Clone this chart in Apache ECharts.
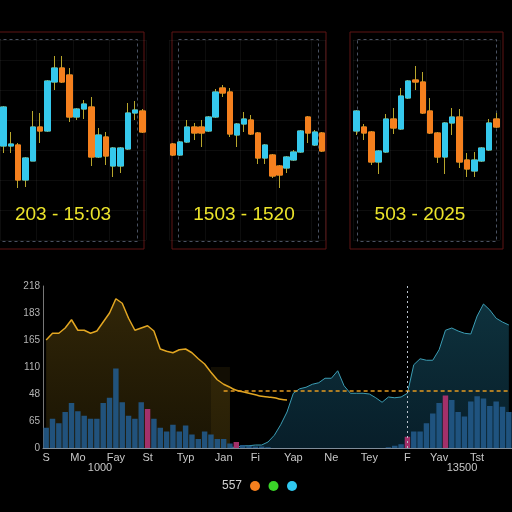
<!DOCTYPE html>
<html><head><meta charset="utf-8">
<script src="https://cdn.jsdelivr.net/npm/echarts@6/dist/echarts.min.js"></script>
<style>html,body{margin:0;padding:0;background:#000;}#c{width:512px;height:512px;}</style>
</head><body><div id="c"></div>
<script>
// ---- candlestick panels: [open, close, low, high]
const panel1Candles = [
  [94,133,87,134],[94,96,87,108],[95,60,52,97],[60,82,53,83],[79,113,79,129],
  [113,109,97,127],[109,159,108,160],[158,172,150,184],[172,158,157,184],[165,123,118,172],
  [123,131,120,132],[131,136,121,140],[133,83,74,143],[83,105,82,112],[103,84,75,108],
  [74,92,63,93],[74,92,67,93],[91,127,90,137],[127,130,120,139],[129,108,107,131]
];
const panel2Candles = [
  [96,85,84,97],[85,98,84,99],[98,113,97,120],[113,107,100,117],[113,107,93,120],
  [109,123,108,124],[123,148,122,151],[152,147,143,155],[148,106,103,152],[105,116,93,117],
  [116,121,108,128],[120,106,105,125],[107,82,76,108],[82,95,76,96],[85,64,62,86],
  [74,65,52,75],[72,83,67,84],[80,88,79,90],[88,109,87,110],[123,107,97,124],
  [95,108,94,110],[107,89,88,108]
];
const panel3Candles = [
  [109,129,105,130],[113,107,100,116],[108,78,75,109],[78,89,66,90],[88,121,87,126],
  [121,112,106,132],[111,144,110,152],[142,159,141,160],[160,158,150,174],[158,127,126,168],
  [129,107,106,142],[107,83,77,108],[83,117,66,118],[117,123,105,132],[123,78,72,131],
  [80,71,63,87],[69,80,63,88],[79,92,78,93],[90,117,89,121],[121,113,112,127]
];
const panelTitles = ["203 - 15:03", "1503 - 1520", "503 - 2025"];

// ---- bottom chart
const xTickLabels = ["S","Mo","Fay","St","Typ","Jan","Fi","Yap","Ne","Tey","F","Yav","Tst"];
const xTickPos = [0,5,11,16,22,28,33,39,45,51,57,62,68];
const xSubLabels = ["1000", "13500"];
const yTickLabels = ["0","65","48","110","165","183","218"];
const goldValues = [144,153,153,160,171,157,157,153,156,168,180,199,193,173,157,160,163,156,132,129,
  127,131,132,127,119,112,101,91,85,81,77,75,73,71,69,68,67,65,64];
const goldAreaEnd = 29;
const tealStart = 29;
const tealValues = [1,1,3,3,4,4,8,17,31,48,73,79,81,85,87,93,93,103,83,73,
  73,73,72,67,61,68,67,68,73,111,119,117,117,131,157,160,156,153,152,176,
  192,184,173,168,164];
const barValues = [27,39,33,48,60,49,43,39,39,60,67,106,61,43,39,61,52,39,27,22,
  31,22,30,18,12,22,18,12,12,6,8,4,3,2,2,1,0,0,0,0,
  0,0,0,0,0,0,0,0,0,0,0,0,0,0,1,3,5,15,22,22,
  33,46,60,70,64,48,42,62,69,66,56,62,55,48];
const pinkBars = [16,30,57,63];
const refLevel = 77;
const refLineStart = 28;
const markerIndex = 57;
const legendLabel = "557";
const legendColors = ["#f5801e", "#3ad428", "#30c8f0"];

const N = barValues.length;
const cats = Array.from({length:N}, (_, i) => {
  const k = xTickPos.indexOf(i); return k >= 0 ? xTickLabels[k] : '';
});
const goldArea = cats.map((_, i) => i <= goldAreaEnd ? goldValues[i] : null);
const goldTail = cats.map((_, i) => (i >= goldAreaEnd && i < goldValues.length) ? goldValues[i] : null);
const teal = cats.map((_, i) => i >= tealStart ? tealValues[i - tealStart] : null);
const bars = barValues.map((v, i) => ({
  value: v,
  itemStyle: { color: pinkBars.includes(i) ? '#a3306a' : 'rgba(34,88,135,0.92)' }
}));

const UP = '#35c8ec', DOWN = '#f5801e', WICK = '#b8a62c';
const panels = [
  { data: panel1Candles, left: -2, width: 148 },
  { data: panel2Candles, left: 169.5, width: 156 },
  { data: panel3Candles, left: 353, width: 147 }
];
const grids = [], xAxes = [], yAxes = [], series = [];
panels.forEach((p, k) => {
  grids.push({ left: p.left, top: 40, width: p.width, height: 200 });
  xAxes.push({ gridIndex: k, type: 'category', data: p.data.map((_, i) => i),
    axisLine:{show:false}, axisTick:{show:false}, axisLabel:{show:false},
    splitLine:{show:true, interval: 4, lineStyle:{color:'rgba(255,255,255,0.05)'}} });
  yAxes.push({ gridIndex: k, type: 'value', min: 0, max: 200, interval: 30,
    axisLine:{show:false}, axisTick:{show:false}, axisLabel:{show:false},
    splitLine:{show:true, lineStyle:{color:'rgba(255,255,255,0.05)'}} });
  series.push({ type: 'candlestick', xAxisIndex: k, yAxisIndex: k, barWidth: 6,
    data: p.data,
    itemStyle: { color: 'rgba(0,0,0,0)', color0: 'rgba(0,0,0,0)', borderColor: WICK, borderColor0: WICK, borderWidth: 1 } });
  series.push({ type: 'candlestick', xAxisIndex: k, yAxisIndex: k, barWidth: 6,
    data: p.data.map(d => [d[0], d[1], Math.min(d[0], d[1]), Math.max(d[0], d[1])]),
    itemStyle: { color: UP, color0: DOWN, borderColor: UP, borderColor0: DOWN, borderWidth: 1 } });
});
// bottom chart
const B = 3;
grids.push({ left: 43, right: 0, top: 286, bottom: 64 });
xAxes.push({ gridIndex: B, type: 'category', data: cats, boundaryGap: true,
  axisLine:{show:true, lineStyle:{color:'#7f8c99', width:1}}, axisTick:{show:false},
  axisLabel:{interval:0, color:'#c8c8c8', fontSize:11, margin:4, fontFamily:'Liberation Sans'},
  splitLine:{show:false} });
yAxes.push({ gridIndex: B, type: 'value', min: 0, max: 216, interval: 36,
  axisLine:{show:true, lineStyle:{color:'#777', width:1}}, axisTick:{show:false},
  axisLabel:{color:'#b4b4b4', fontSize:10, margin:3, fontFamily:'Liberation Sans',
    formatter: v => yTickLabels[Math.round(v / 36)]},
  splitLine:{show:false} });
series.push({ type:'line', xAxisIndex:B, yAxisIndex:B, data: goldArea, symbol:'none',
  lineStyle:{color:'#e2a622', width:1.5},
  areaStyle:{color: new echarts.graphic.LinearGradient(0,0,0,1,[
    {offset:0, color:'rgba(140,108,22,0.5)'}, {offset:1, color:'rgba(95,74,14,0.4)'}])},
  markArea:{silent:true, itemStyle:{color:'rgba(60,46,10,0.3)'},
    data:[[{coord:[26, 0]}, {coord:[goldAreaEnd, 108]}]]},
  z: 2 });
series.push({ type:'line', xAxisIndex:B, yAxisIndex:B, data: goldTail, symbol:'none', smooth:0.5,
  lineStyle:{color:'#e2a622', width:1.5}, z: 3 });
series.push({ type:'line', xAxisIndex:B, yAxisIndex:B, data: teal, symbol:'none',
  lineStyle:{color:'#3c9db4', width:1},
  areaStyle:{color: new echarts.graphic.LinearGradient(0,0,0,1,[
    {offset:0, color:'rgba(22,78,96,0.9)'}, {offset:1, color:'rgba(12,48,66,0.9)'}])},
  z: 2 });
series.push({ type:'bar', xAxisIndex:B, yAxisIndex:B, data: bars, barCategoryGap:'14%', z: 3,
  markLine:{silent:true, symbol:'none', label:{show:false},
    data:[
      [{coord:[refLineStart, refLevel], lineStyle:{color:'#e39a20', type:[4,3], width:1.5}},
       {coord:[N-1, refLevel]}],
      {xAxis: markerIndex, lineStyle:{color:'#b8c2cc', type:[2,3], width:1}}
    ]} });

const graphic = [];
const frames = [[-10,32,154,217],[172,32,154,217],[350,32,153,217]];
const inner = [[-3,39,140,202],[178,39,140,202],[357,39,139,202]];
frames.forEach(f => graphic.push({type:'rect', shape:{x:f[0],y:f[1],width:f[2],height:f[3]},
  style:{fill:'none', stroke:'#5e1515', lineWidth:1}, z:0}));
inner.forEach(f => graphic.push({type:'rect', shape:{x:f[0]+0.5,y:f[1]+0.5,width:f[2],height:f[3]},
  style:{fill:'none', stroke:'#4a5262', lineWidth:1, lineDash:[3,3]}, z:0}));
const titleX = [63, 244, 420];
panelTitles.forEach((t, k) => graphic.push({type:'text', x:titleX[k], y:215,
  style:{text:t, fill:'#ece42a', font:'19px "Liberation Sans"', textAlign:'center', textVerticalAlign:'middle', align:'center', verticalAlign:'middle'}}));
const subX = [100, 462];
xSubLabels.forEach((t, k) => graphic.push({type:'text', x:subX[k], y:468,
  style:{text:t, fill:'#c8c8c8', font:'11px "Liberation Sans"', textAlign:'center', textVerticalAlign:'middle', align:'center', verticalAlign:'middle'}}));
graphic.push({type:'text', x:232, y:486, style:{text:legendLabel, fill:'#d0d0d0', font:'12px "Liberation Sans"',
  textAlign:'center', textVerticalAlign:'middle', align:'center', verticalAlign:'middle'}});
legendColors.forEach((c, k) => graphic.push({type:'circle', shape:{cx:255 + k*18.5, cy:486, r:5}, style:{fill:c}}));

const chart = echarts.init(document.getElementById('c'), null, {renderer:'canvas'});
chart.setOption({
  backgroundColor:'#000',
  animation:false,
  grid: grids, xAxis: xAxes, yAxis: yAxes, series: series, graphic: graphic
});
</script></body></html>
